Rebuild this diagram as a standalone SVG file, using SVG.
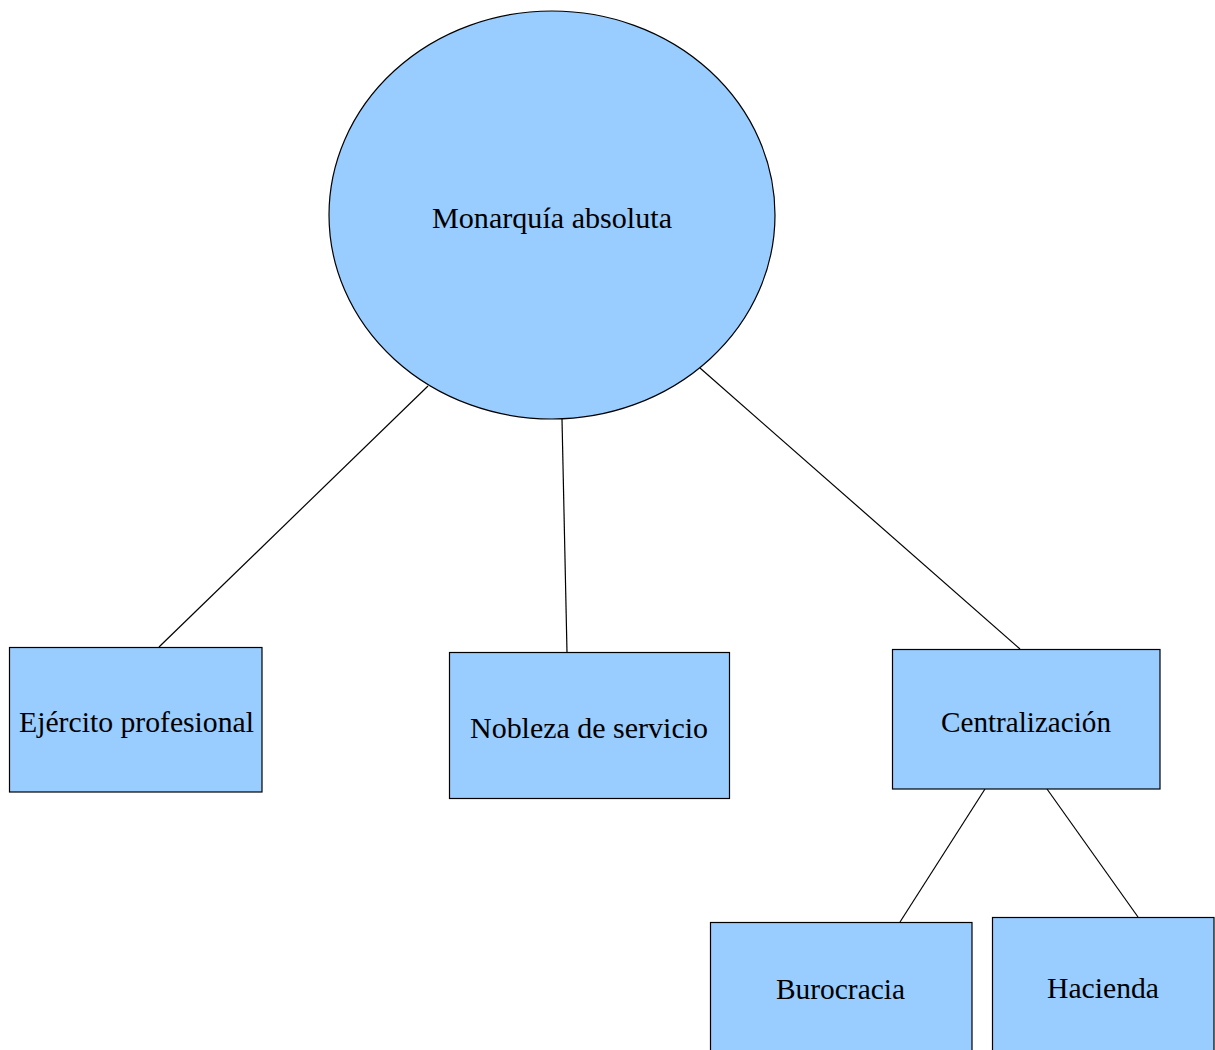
<svg xmlns="http://www.w3.org/2000/svg" width="1215" height="1050" viewBox="0 0 1215 1050">
<style>
.n{fill:#99ccff;stroke:#000;stroke-width:1.2}
.t{font-family:"Liberation Serif","Times New Roman",serif;font-size:30px;fill:#000;text-anchor:middle}
.c{stroke:#000;stroke-width:1.2;fill:none}
</style>
<rect width="1215" height="1050" fill="#fff"/>
<g id="connectors">
<line class="c" x1="428" y1="386" x2="159" y2="647"/>
<line class="c" x1="562" y1="419" x2="567" y2="652"/>
<line class="c" x1="700" y1="368" x2="1020" y2="649"/>
<line class="c" x1="985" y1="789" x2="900" y2="922"/>
<line class="c" x1="1047" y1="789" x2="1138" y2="917"/>
</g>
<g id="monarquia">
<ellipse class="n" cx="552" cy="215" rx="223" ry="204"/>
<text class="t" x="552" y="227.5" textLength="240" lengthAdjust="spacingAndGlyphs">Monarquía absoluta</text>
</g>
<g id="ejercito">
<rect class="n" x="9.5" y="647.5" width="252.5" height="144.5"/>
<text class="t" x="136.5" y="731.5" textLength="235" lengthAdjust="spacingAndGlyphs">Ejército profesional</text>
</g>
<g id="nobleza">
<rect class="n" x="449.5" y="652.5" width="280" height="146"/>
<text class="t" x="589" y="738" textLength="238" lengthAdjust="spacingAndGlyphs">Nobleza de servicio</text>
</g>
<g id="centralizacion">
<rect class="n" x="892.5" y="649.5" width="267.5" height="139.5"/>
<text class="t" x="1026" y="731.5" textLength="170" lengthAdjust="spacingAndGlyphs">Centralización</text>
</g>
<g id="burocracia">
<rect class="n" x="710.5" y="922.5" width="261.5" height="140"/>
<text class="t" x="840.5" y="999" textLength="129" lengthAdjust="spacingAndGlyphs">Burocracia</text>
</g>
<g id="hacienda">
<rect class="n" x="992.5" y="917.5" width="221.5" height="145"/>
<text class="t" x="1103" y="997.5" textLength="112" lengthAdjust="spacingAndGlyphs">Hacienda</text>
</g>
</svg>
